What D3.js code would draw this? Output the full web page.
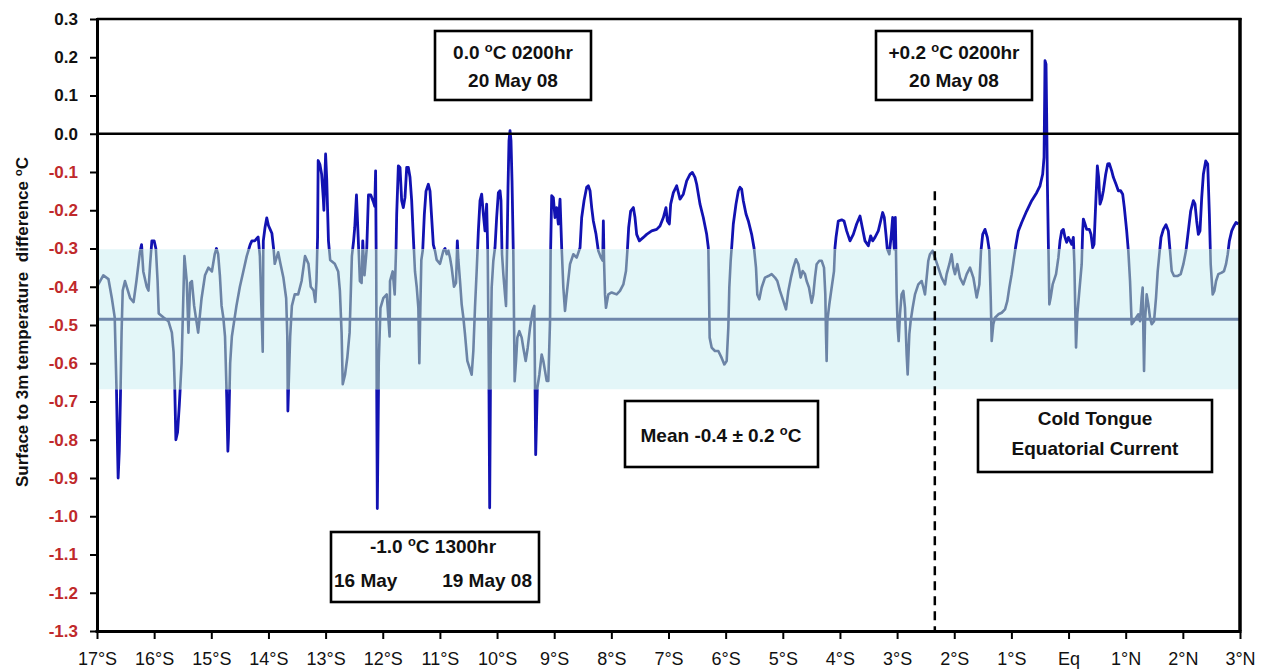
<!DOCTYPE html>
<html><head><meta charset="utf-8">
<script src="https://cdn.jsdelivr.net/npm/d3@7"></script>
<style>
body{margin:0;background:#fff}
svg{display:block}
text{font-family:Arial,"Liberation Sans",sans-serif}
</style>
</head><body>
<svg id="chart" width="1261" height="671"></svg>
<script>
// ---- DATA ----
// latitude (deg, S negative) , surface minus 3 m temperature difference (°C)
const series = [
[-17.00,-0.40],[-16.89,-0.37],[-16.80,-0.38],[-16.74,-0.43],[-16.69,-0.48],[-16.66,-0.66],[-16.64,-0.83],[-16.63,-0.90],[-16.61,-0.83],[-16.59,-0.69],[-16.57,-0.52],[-16.55,-0.41],[-16.51,-0.385],[-16.42,-0.43],[-16.36,-0.44],[-16.31,-0.385],[-16.25,-0.31],[-16.22,-0.29],[-16.19,-0.36],[-16.13,-0.40],[-16.10,-0.41],[-16.07,-0.34],[-16.04,-0.28],[-16.00,-0.28],[-15.97,-0.30],[-15.94,-0.385],[-15.92,-0.47],[-15.84,-0.48],[-15.75,-0.49],[-15.69,-0.52],[-15.66,-0.57],[-15.64,-0.66],[-15.62,-0.80],[-15.59,-0.78],[-15.56,-0.71],[-15.52,-0.60],[-15.49,-0.43],[-15.47,-0.32],[-15.43,-0.385],[-15.40,-0.52],[-15.37,-0.39],[-15.34,-0.385],[-15.30,-0.45],[-15.27,-0.48],[-15.23,-0.52],[-15.17,-0.43],[-15.11,-0.37],[-15.05,-0.35],[-14.99,-0.36],[-14.94,-0.315],[-14.91,-0.30],[-14.88,-0.315],[-14.85,-0.37],[-14.82,-0.45],[-14.79,-0.48],[-14.76,-0.53],[-14.73,-0.69],[-14.71,-0.83],[-14.70,-0.795],[-14.67,-0.60],[-14.64,-0.53],[-14.60,-0.49],[-14.56,-0.45],[-14.50,-0.40],[-14.44,-0.36],[-14.38,-0.32],[-14.32,-0.29],[-14.29,-0.28],[-14.24,-0.28],[-14.18,-0.27],[-14.15,-0.32],[-14.12,-0.47],[-14.10,-0.57],[-14.09,-0.28],[-14.06,-0.245],[-14.03,-0.22],[-14.00,-0.24],[-13.97,-0.25],[-13.94,-0.26],[-13.91,-0.30],[-13.89,-0.34],[-13.83,-0.31],[-13.79,-0.34],[-13.74,-0.375],[-13.69,-0.43],[-13.67,-0.53],[-13.66,-0.725],[-13.62,-0.53],[-13.59,-0.45],[-13.54,-0.42],[-13.48,-0.42],[-13.42,-0.385],[-13.36,-0.32],[-13.30,-0.34],[-13.26,-0.40],[-13.21,-0.41],[-13.18,-0.44],[-13.16,-0.385],[-13.14,-0.27],[-13.13,-0.07],[-13.10,-0.08],[-13.07,-0.105],[-13.04,-0.17],[-13.03,-0.20],[-13.00,-0.053],[-12.98,-0.12],[-12.95,-0.28],[-12.92,-0.33],[-12.84,-0.34],[-12.78,-0.36],[-12.75,-0.41],[-12.72,-0.52],[-12.70,-0.655],[-12.66,-0.63],[-12.62,-0.585],[-12.58,-0.52],[-12.54,-0.32],[-12.51,-0.28],[-12.49,-0.245],[-12.46,-0.16],[-12.43,-0.27],[-12.40,-0.385],[-12.37,-0.39],[-12.35,-0.28],[-12.32,-0.37],[-12.28,-0.30],[-12.25,-0.16],[-12.21,-0.16],[-12.16,-0.18],[-12.14,-0.19],[-12.125,-0.097],[-12.115,-0.32],[-12.105,-0.69],[-12.095,-0.98],[-12.07,-0.60],[-12.04,-0.455],[-11.99,-0.43],[-11.93,-0.42],[-11.88,-0.53],
[-11.873,-0.385],[-11.826,-0.36],[-11.791,-0.42],[-11.768,-0.306],[-11.756,-0.21],[-11.727,-0.084],[-11.698,-0.088],[-11.669,-0.175],[-11.640,-0.193],[-11.611,-0.167],[-11.581,-0.088],[-11.552,-0.088],[-11.523,-0.114],[-11.494,-0.175],[-11.465,-0.27],[-11.436,-0.36],[-11.406,-0.40],[-11.377,-0.455],[-11.360,-0.60],[-11.342,-0.455],[-11.325,-0.33],[-11.301,-0.306],[-11.272,-0.21],[-11.243,-0.15],[-11.202,-0.132],[-11.173,-0.15],[-11.144,-0.22],[-11.115,-0.29],[-11.086,-0.306],[-11.056,-0.33],[-10.998,-0.34],[-10.940,-0.306],[-10.911,-0.30],[-10.881,-0.315],[-10.852,-0.306],[-10.823,-0.324],[-10.794,-0.35],[-10.753,-0.40],[-10.718,-0.39],[-10.695,-0.28],[-10.677,-0.33],[-10.648,-0.385],[-10.619,-0.446],[-10.590,-0.48],[-10.561,-0.524],[-10.520,-0.594],[-10.485,-0.61],[-10.444,-0.63],[-10.415,-0.568],[-10.386,-0.455],[-10.357,-0.36],[-10.327,-0.254],[-10.298,-0.175],[-10.269,-0.158],[-10.240,-0.21],[-10.211,-0.254],[-10.182,-0.184],[-10.164,-0.30],[-10.152,-0.49],[-10.141,-0.68],[-10.129,-0.978],[-10.112,-0.577],[-10.094,-0.402],[-10.065,-0.332],[-10.036,-0.298],[-10.007,-0.219],[-9.977,-0.154],[-9.948,-0.149],[-9.931,-0.175],[-9.913,-0.315],[-9.890,-0.367],[-9.861,-0.42],[-9.843,-0.45],[-9.826,-0.315],[-9.808,-0.14],[-9.791,-0.018],[-9.773,0.008],[-9.756,-0.018],[-9.738,-0.123],[-9.715,-0.315],[-9.692,-0.647],[-9.668,-0.594],[-9.645,-0.533],[-9.610,-0.516],[-9.569,-0.533],[-9.540,-0.56],[-9.499,-0.594],[-9.464,-0.56],[-9.423,-0.507],[-9.377,-0.463],[-9.348,-0.45],[-9.324,-0.839],[-9.295,-0.664],[-9.260,-0.63],[-9.219,-0.577],[-9.190,-0.594],[-9.161,-0.62],[-9.132,-0.646],[-9.103,-0.646],[-9.073,-0.49],[-9.062,-0.298],[-9.044,-0.162],[-9.015,-0.167],[-8.986,-0.219],[-8.957,-0.193],[-8.928,-0.236],[-8.898,-0.171],[-8.869,-0.298],[-8.840,-0.402],[-8.811,-0.463],[-8.782,-0.42],[-8.723,-0.341],[-8.665,-0.315],[-8.607,-0.324],[-8.548,-0.298],[-8.519,-0.219],[-8.478,-0.175],[-8.432,-0.14],[-8.403,-0.136],[-8.373,-0.149],[-8.344,-0.193],[-8.315,-0.228],[-8.268,-0.263],[-8.228,-0.306],[-8.181,-0.324],[-8.152,-0.332],[-8.140,-0.228],[-8.128,-0.332],[-8.111,-0.42],[-8.094,-0.455],[-8.053,-0.42],[-7.995,-0.415],[-7.907,-0.42],[-7.849,-0.411],[-7.790,-0.394],[-7.744,-0.359],[-7.720,-0.306],[-7.697,-0.245],[-7.662,-0.202],[-7.615,-0.193],[-7.586,-0.219],[-7.557,-0.263],[-7.510,-0.28],[-7.440,-0.271],[-7.382,-0.263],[-7.294,-0.254],[-7.207,-0.25],[-7.149,-0.241],[-7.090,-0.219],[-7.044,-0.193],[-7.020,-0.228],[-6.985,-0.236],[-6.962,-0.184],[-6.915,-0.154],[-6.857,-0.136],
[-6.799,-0.171],[-6.741,-0.158],[-6.682,-0.123],[-6.624,-0.106],[-6.583,-0.101],[-6.537,-0.114],[-6.507,-0.132],[-6.449,-0.184],[-6.391,-0.219],[-6.332,-0.263],[-6.303,-0.298],[-6.292,-0.402],[-6.280,-0.533],[-6.245,-0.559],[-6.187,-0.568],[-6.128,-0.568],[-6.070,-0.586],[-6.023,-0.603],[-5.982,-0.594],[-5.953,-0.507],[-5.936,-0.402],[-5.912,-0.332],[-5.895,-0.298],[-5.866,-0.236],[-5.819,-0.184],[-5.778,-0.149],[-5.749,-0.14],[-5.720,-0.145],[-5.691,-0.175],[-5.644,-0.21],[-5.603,-0.228],[-5.545,-0.263],[-5.504,-0.298],[-5.469,-0.35],[-5.446,-0.42],[-5.411,-0.433],[-5.370,-0.402],[-5.312,-0.376],[-5.253,-0.372],[-5.195,-0.367],[-5.137,-0.376],[-5.096,-0.385],[-5.049,-0.411],[-4.991,-0.437],[-4.944,-0.459],[-4.903,-0.411],[-4.857,-0.376],[-4.816,-0.35],[-4.769,-0.328],[-4.728,-0.341],[-4.688,-0.376],[-4.653,-0.359],[-4.612,-0.367],[-4.583,-0.385],[-4.542,-0.402],[-4.495,-0.442],[-4.466,-0.42],[-4.437,-0.376],[-4.408,-0.341],[-4.361,-0.332],[-4.320,-0.332],[-4.279,-0.35],[-4.256,-0.42],[-4.244,-0.524],[-4.233,-0.594],[-4.221,-0.49],[-4.186,-0.446],[-4.145,-0.402],[-4.104,-0.359],[-4.087,-0.298],[-4.069,-0.271],[-4.029,-0.228],[-3.970,-0.225],[-3.929,-0.228],[-3.883,-0.254],[-3.824,-0.28],[-3.766,-0.263],[-3.708,-0.236],[-3.649,-0.215],[-3.609,-0.245],[-3.562,-0.28],[-3.504,-0.293],[-3.463,-0.267],[-3.428,-0.28],[-3.387,-0.271],[-3.329,-0.254],[-3.288,-0.228],[-3.253,-0.206],[-3.224,-0.219],[-3.195,-0.263],[-3.171,-0.302],[-3.136,-0.315],[-3.125,-0.298],[-3.101,-0.263],[-3.078,-0.219],[-3.066,-0.263],[-3.049,-0.302],[-3.031,-0.219],[-3.020,-0.306],[-3.008,-0.42],[-2.990,-0.507],[-2.973,-0.542],[-2.950,-0.472],[-2.921,-0.42],[-2.891,-0.411],[-2.862,-0.455],[-2.833,-0.577],[-2.815,-0.629],[-2.786,-0.524],[-2.763,-0.49],[-2.728,-0.455],[-2.687,-0.42],[-2.629,-0.394],[-2.570,-0.385],[-2.541,-0.402],[-2.512,-0.42],[-2.483,-0.376],[-2.454,-0.332],[-2.425,-0.315],[-2.378,-0.306],[-2.337,-0.324],[-2.279,-0.35],[-2.221,-0.376],[-2.162,-0.394],[-2.133,-0.367],[-2.086,-0.341],[-2.046,-0.315],[-2.016,-0.35],[-1.987,-0.367],[-1.946,-0.341],[-1.900,-0.376],
[-1.841,-0.394],[-1.782,-0.367],[-1.724,-0.35],[-1.666,-0.376],[-1.607,-0.428],[-1.561,-0.394],[-1.532,-0.306],[-1.502,-0.263],[-1.462,-0.25],[-1.421,-0.271],[-1.386,-0.306],[-1.362,-0.428],[-1.345,-0.542],[-1.316,-0.498],[-1.287,-0.481],[-1.228,-0.472],[-1.170,-0.468],[-1.112,-0.459],[-1.071,-0.437],[-1.036,-0.402],[-0.995,-0.367],[-0.954,-0.324],[-0.919,-0.289],[-0.878,-0.254],[-0.820,-0.232],[-0.733,-0.202],[-0.645,-0.175],[-0.558,-0.154],[-0.499,-0.136],[-0.453,-0.106],[-0.429,-0.062],[-0.418,0.095],[-0.412,0.191],[-0.394,0.182],[-0.383,0.051],[-0.371,-0.123],[-0.353,-0.289],[-0.336,-0.446],[-0.313,-0.428],[-0.278,-0.394],[-0.219,-0.367],[-0.178,-0.324],[-0.149,-0.28],[-0.120,-0.254],[-0.091,-0.25],[-0.062,-0.271],[-0.033,-0.284],[-0.003,-0.271],[0.026,-0.28],[0.055,-0.289],[0.084,-0.271],[0.102,-0.341],[0.119,-0.472],[0.131,-0.559],[0.154,-0.472],[0.189,-0.411],[0.230,-0.341],[0.247,-0.254],[0.259,-0.223],[0.288,-0.236],[0.317,-0.25],[0.364,-0.25],[0.393,-0.263],[0.422,-0.298],[0.446,-0.289],[0.475,-0.184],[0.504,-0.084],[0.527,-0.114],[0.551,-0.184],[0.580,-0.171],[0.609,-0.149],[0.650,-0.106],[0.685,-0.079],[0.714,-0.078],[0.755,-0.097],[0.784,-0.114],[0.831,-0.132],[0.871,-0.149],[0.912,-0.149],[0.947,-0.158],[0.976,-0.193],[1.017,-0.254],[1.046,-0.306],[1.076,-0.385],[1.105,-0.498],[1.146,-0.49],[1.181,-0.481],[1.221,-0.472],[1.251,-0.49],[1.280,-0.428],[1.297,-0.402],[1.309,-0.516],[1.321,-0.62],[1.338,-0.49],[1.367,-0.42],[1.396,-0.446],[1.425,-0.481],[1.455,-0.498],[1.496,-0.49],[1.531,-0.428],[1.560,-0.359],[1.589,-0.315],[1.618,-0.271],[1.659,-0.25],[1.705,-0.238],[1.746,-0.254],[1.776,-0.306],[1.805,-0.359],[1.845,-0.372],[1.904,-0.372],[1.962,-0.367],[2.009,-0.341],[2.055,-0.306],[2.096,-0.254],[2.137,-0.202],[2.184,-0.175],[2.213,-0.184],[2.242,-0.228],[2.271,-0.263],[2.300,-0.254],[2.330,-0.167],[2.359,-0.106],[2.400,-0.071],[2.435,-0.079],[2.464,-0.21],[2.487,-0.341],[2.522,-0.42],[2.551,-0.411],[2.581,-0.385],[2.621,-0.367],[2.680,-0.363],[2.720,-0.359],[2.755,-0.341],[2.785,-0.315],[2.814,-0.28],[2.855,-0.254],[2.895,-0.241],[2.930,-0.232],[2.971,-0.236]
];
const yTicks = [0.3,0.2,0.1,0.0,-0.1,-0.2,-0.3,-0.4,-0.5,-0.6,-0.7,-0.8,-0.9,-1.0,-1.1,-1.2,-1.3];
const xTicks = [-17,-16,-15,-14,-13,-12,-11,-10,-9,-8,-7,-6,-5,-4,-3,-2,-1,0,1,2,3];
const xTickLabels = ["17°S","16°S","15°S","14°S","13°S","12°S","11°S","10°S","9°S","8°S","7°S","6°S","5°S","4°S","3°S","2°S","1°S","Eq","1°N","2°N","3°N"];
const meanDiff = -0.485;
const sdDiff = 0.183;
const frontLat = -2.34;      // dashed line: start of Cold Tongue
const frontTop = -0.15;

// ---- LAYOUT ----
const W = 1261, H = 671;
const m = {left:97, right:21, top:19, bottom:40};
const svg = d3.select("#chart");
const x = d3.scaleLinear().domain([-17,3]).range([m.left, W-m.right]);
const y = d3.scaleLinear().domain([-1.3,0.3]).range([H-m.bottom, m.top]);
const blue = "#1212b2", grey = "#6c84a6";

// band
const bandTop = y(meanDiff+sdDiff), bandBot = y(meanDiff-sdDiff);
svg.append("rect").attr("x",x(-17)).attr("width",x(3)-x(-17))
  .attr("y",bandTop).attr("height",bandBot-bandTop).attr("fill","#e3f6f8");

const defs = svg.append("defs");
const cOut = defs.append("clipPath").attr("id","out");
cOut.append("rect").attr("x",0).attr("y",0).attr("width",W).attr("height",bandTop);
cOut.append("rect").attr("x",0).attr("y",bandBot).attr("width",W).attr("height",H-bandBot);
defs.append("clipPath").attr("id","inb").append("rect")
  .attr("x",0).attr("y",bandTop).attr("width",W).attr("height",bandBot-bandTop);

const line = d3.line().x(d=>x(d[0])).y(d=>y(d[1]));
svg.append("path").datum(series).attr("d",line).attr("fill","none")
  .attr("stroke",blue).attr("stroke-width",2.8).attr("stroke-linejoin","round").attr("clip-path","url(#out)");
svg.append("path").datum(series).attr("d",line).attr("fill","none")
  .attr("stroke",grey).attr("stroke-width",2.6).attr("stroke-linejoin","round").attr("clip-path","url(#inb)");

// mean line
svg.append("line").attr("x1",x(-17)).attr("x2",x(3)).attr("y1",y(meanDiff)).attr("y2",y(meanDiff))
  .attr("stroke","#6e86aa").attr("stroke-width",3);

// zero line
svg.append("line").attr("x1",x(-17)).attr("x2",x(3)).attr("y1",y(0)).attr("y2",y(0))
  .attr("stroke","#000").attr("stroke-width",2.5);

// dashed front line
svg.append("line").attr("x1",x(frontLat)).attr("x2",x(frontLat)).attr("y1",y(frontTop)).attr("y2",y(-1.3))
  .attr("stroke","#000").attr("stroke-width",2.5).attr("stroke-dasharray","9,6");

// frame top/right
svg.append("line").attr("x1",x(-17)).attr("x2",x(3)+1.5).attr("y1",y(0.3)).attr("y2",y(0.3))
  .attr("stroke","#000").attr("stroke-width",2.5);
svg.append("line").attr("x1",x(3)).attr("x2",x(3)).attr("y1",y(0.3)-1).attr("y2",y(-1.3))
  .attr("stroke","#000").attr("stroke-width",3.5);

// y axis
const yMinor = d3.range(-1.25,0.3,0.1).map(v=>+v.toFixed(2));
const gy = svg.append("g").attr("transform",`translate(${m.left},0)`);
gy.call(d3.axisLeft(y).tickValues(yMinor).tickSize(7).tickFormat(""));
gy.call(d3.axisLeft(y).tickValues(yTicks).tickSize(7).tickPadding(12).tickFormat(d=>d.toFixed(1)));
gy.selectAll("path.domain").attr("stroke-width",3).attr("d",`M0.5,${y(0.3)-1}V${y(-1.3)+1.5}`);
gy.selectAll(".tick line").attr("stroke-width",2);
gy.selectAll(".tick text").attr("font-size",17).attr("font-weight","bold")
  .attr("fill",d=>d<0 ? "#c0292b" : "#111");

// x axis
const xMinor = d3.range(-16.5,3,1);
const gx = svg.append("g").attr("transform",`translate(0,${H-m.bottom})`);
gx.call(d3.axisBottom(x).tickValues(xMinor).tickSize(5).tickFormat(""));
gx.call(d3.axisBottom(x).tickValues(xTicks).tickSize(8).tickPadding(13)
  .tickFormat((d,i)=>xTickLabels[i]));
gx.selectAll("path.domain").attr("stroke-width",3).attr("d",`M${m.left-1.5},0.5H${x(3)+1.5}`);
gx.selectAll(".tick line").attr("stroke-width",2);
gx.selectAll(".tick text").attr("font-size",18).attr("fill","#111");

// text with raised "o" for the degree sign
function degText(sel, str){
  const parts = str.split("°");
  parts.forEach((p,i)=>{
    if(i>0){
      sel.append("tspan").attr("font-size","0.68em").attr("dy","-0.55em").text("o");
      sel.append("tspan").attr("dy","0.38em").text(p);
    } else sel.append("tspan").text(p);
  });
}

// y title
const yt = svg.append("text").attr("transform","translate(28,322) rotate(-90)")
  .attr("text-anchor","middle").attr("font-size",17).attr("font-weight","bold")
  .style("white-space","pre").attr("fill","#111");
degText(yt, "Surface to 3m temperature  difference °C");

// annotation boxes
const boxes = [
  {x:435,y:31,w:156,h:69,lines:[["0.0 °C 0200hr",513,59,"middle"],["20 May 08",513,87,"middle"]]},
  {x:876,y:31,w:156,h:69,lines:[["+0.2 °C 0200hr",954,59,"middle"],["20 May 08",954,87,"middle"]]},
  {x:625,y:401,w:193,h:66,lines:[["Mean -0.4 ± 0.2 °C",721,442,"middle"]]},
  {x:978,y:400,w:234,h:72,lines:[["Cold Tongue",1095,425,"middle"],["Equatorial Current",1095,455,"middle"]]},
  {x:331,y:532,w:208,h:70,lines:[["-1.0 °C 1300hr",433,553,"middle"],["16 May",334,587,"start"],["19 May 08",532,587,"end"]]}
];
boxes.forEach(b=>{
  svg.append("rect").attr("x",b.x).attr("y",b.y).attr("width",b.w).attr("height",b.h)
    .attr("fill","#fff").attr("stroke","#000").attr("stroke-width",2.6);
  b.lines.forEach(l=>{
    const t = svg.append("text").attr("x",l[1]).attr("y",l[2]).attr("text-anchor",l[3])
      .attr("font-size",19).attr("font-weight","bold").attr("fill","#111");
    degText(t, l[0]);
  });
});
</script>
</body></html>
